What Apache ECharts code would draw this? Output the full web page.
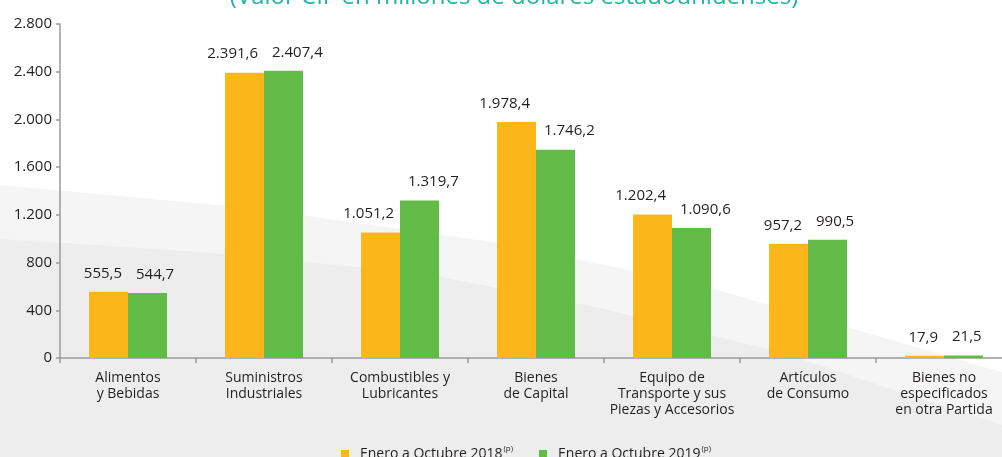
<!DOCTYPE html>
<html>
<head>
<meta charset="utf-8">
<script src="https://cdn.jsdelivr.net/npm/echarts@6/dist/echarts.min.js"></script>
<style>
html,body{margin:0;padding:0;background:#fff;overflow:hidden;}
#chart{width:1012px;height:457px;}
</style>
</head>
<body>
<div id="chart"></div>
<script>
var categories = [
  'Alimentos\ny Bebidas',
  'Suministros\nIndustriales',
  'Combustibles y\nLubricantes',
  'Bienes\nde Capital',
  'Equipo de\nTransporte y sus\nPiezas y Accesorios',
  'Artículos\nde Consumo',
  'Bienes no\nespecificados\nen otra Partida'
];
var seriesNames = ['Enero a Octubre 2018', 'Enero a Octubre 2019'];
var values2018 = [555.5, 2391.6, 1051.2, 1978.4, 1202.4, 957.2, 17.9];
var values2019 = [544.7, 2407.4, 1319.7, 1746.2, 1090.6, 990.5, 21.5];
var titleText = '(Valor CIF en millones de dólares estadounidenses)';
var superscript = '(p)';

var FONT = 'Open Sans';
function fmtNum(v, dec) {
  var s = v.toFixed(dec);
  var parts = s.split('.');
  parts[0] = parts[0].replace(/\B(?=(\d{3})+(?!\d))/g, '.');
  return parts.length > 1 ? parts[0] + ',' + parts[1] : parts[0];
}

var chart = echarts.init(document.getElementById('chart'), null, {renderer: 'canvas'});
var option = {
  backgroundColor: '#ffffff',
  animation: false,
  textStyle: {fontFamily: FONT},
  graphic: [
    {type: 'polygon', z: -10, silent: true,
     shape: {points: [[0,185],[250,208],[500,243],[700,285],[850,328],[1012,375],[1012,457],[0,457]]},
     style: {fill: '#f5f5f5'}},
    {type: 'polygon', z: -9, silent: true,
     shape: {points: [[0,239],[200,252],[420,273],[600,308],[780,352],[900,392],[1012,428],[1012,457],[0,457]]},
     style: {fill: '#ededed'}},
    {type: 'text', z: 10, x: 514, y: -3,
     style: {text: titleText, fill: '#22b3a4', font: '24px "Open Sans"', textAlign: 'center', textVerticalAlign: 'middle'}}
  ],
  grid: {left: 60, right: 0, top: 24, bottom: 99, containLabel: false},
  legend: {
    left: 336, top: 440,
    itemWidth: 8, itemHeight: 8, itemGap: 26, icon: 'rect',
    data: seriesNames,
    formatter: function (n) { return '{t|' + n + '}{p|' + superscript + '}'; },
    textStyle: {
      color: '#231f20',
      rich: {
        t: {fontSize: 14, fontFamily: FONT, color: '#231f20', lineHeight: 18, padding: [0, 0, 0, 6]},
        p: {fontSize: 8, fontFamily: FONT, color: '#231f20', lineHeight: 18, verticalAlign: 'top', padding: [0, 0, 0, 1]}
      }
    }
  },
  xAxis: {
    type: 'category',
    data: categories,
    axisLine: {lineStyle: {color: '#9a9a9a', width: 1.5}},
    axisTick: {show: true, length: 5, lineStyle: {color: '#9a9a9a', width: 1.5}},
    axisLabel: {interval: 0, fontSize: 14, lineHeight: 16, color: '#231f20', margin: 12, fontFamily: FONT}
  },
  yAxis: {
    type: 'value', min: 0, max: 2800, interval: 400,
    axisLine: {show: true, lineStyle: {color: '#9a9a9a', width: 1.5}},
    axisTick: {show: true, length: 4, lineStyle: {color: '#9a9a9a', width: 1.5}},
    splitLine: {show: false},
    axisLabel: {fontSize: 15, color: '#231f20', margin: 8, fontFamily: FONT,
      formatter: function (v) { return fmtNum(v, 0); }}
  },
  series: [
    {name: seriesNames[0], type: 'bar', data: values2018, barWidth: 39, barGap: '0%',
     itemStyle: {color: '#fbb619'},
     label: {show: true, position: 'top', distance: 11, align: 'right', offset: [13.5, 0], fontSize: 15, color: '#231f20', fontFamily: FONT,
       formatter: function (p) { return fmtNum(p.value, 1); }}},
    {name: seriesNames[1], type: 'bar', data: values2019, barWidth: 39, barGap: '0%',
     itemStyle: {color: '#62bb47'},
     label: {show: true, position: 'top', distance: 11, align: 'left', offset: [-11.5, 0], fontSize: 15, color: '#231f20', fontFamily: FONT,
       formatter: function (p) { return fmtNum(p.value, 1); }}}
  ]
};
chart.setOption(option);
</script>
</body>
</html>
